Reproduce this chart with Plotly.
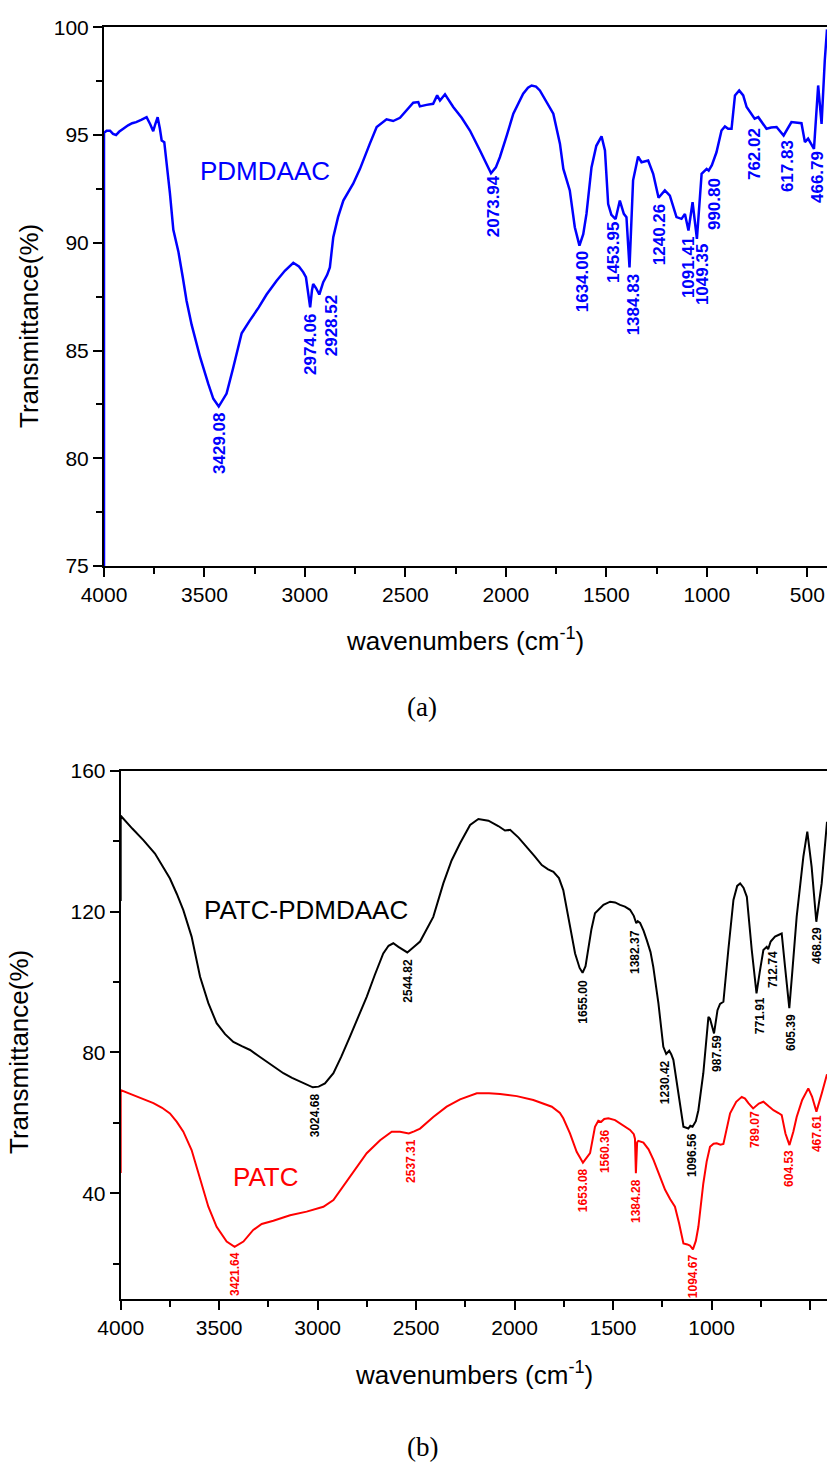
import plotly.graph_objects as go

# ---------------- (a) PDMDAAC spectrum ----------------
pdmdaac_wn = [
    4000, 4000, 3987, 3970, 3955, 3940, 3925, 3905, 3880, 3860, 3840, 3815, 3788, 3770, 3755, 3745,
    3733, 3722, 3713, 3700, 3686, 3672, 3655, 3630, 3608, 3589, 3564, 3522, 3481, 3456, 3429.08,
    3390, 3357, 3315, 3274, 3230, 3191, 3141, 3100, 3058, 3030, 3008, 2995, 2985, 2974.06, 2965,
    2959, 2945, 2928.52, 2909, 2890, 2876, 2859, 2835, 2809, 2760, 2726, 2677, 2643, 2594, 2561,
    2527, 2490, 2461, 2436, 2428, 2395, 2362, 2342, 2328, 2303, 2262, 2220, 2179, 2129, 2100,
    2073.94, 2050, 2030, 1995, 1963, 1914, 1890, 1872, 1850, 1831, 1800, 1764, 1731, 1714, 1682,
    1657, 1634.00, 1615, 1599, 1574, 1550, 1532, 1524, 1507, 1491, 1475, 1453.95, 1433, 1420,
    1413, 1400, 1384.83, 1367, 1342, 1325, 1292, 1267, 1240.26, 1209, 1184, 1151, 1126, 1109,
    1091.41, 1071, 1049.35, 1026, 1001, 990.80, 975, 952, 927, 910, 894, 877, 860, 839, 819, 802,
    780, 762.02, 744, 703, 680, 653, 617.83, 579, 529, 512, 496, 466.79, 446, 429, 413, 402,
]
pdmdaac_t = [
    75.0, 95.1, 95.2, 95.2, 95.05, 95.0, 95.15, 95.3, 95.45, 95.55, 95.6, 95.7, 95.83, 95.5, 95.18, 95.5,
    95.83, 95.3, 94.75, 94.67, 93.5, 92.3, 90.6, 89.6, 88.4, 87.3, 86.2, 84.7, 83.45, 82.76, 82.4,
    83.0, 84.2, 85.8, 86.4, 87.0, 87.6, 88.24, 88.7, 89.07, 88.9, 88.63, 88.4, 87.6, 87.0, 87.8,
    88.09, 87.9, 87.6, 88.17, 88.5, 88.86, 90.26, 91.2, 91.96, 92.74, 93.43, 94.6, 95.37, 95.73, 95.65,
    95.8, 96.2, 96.5, 96.53, 96.33, 96.4, 96.45, 96.84, 96.6, 96.89, 96.3, 95.8, 95.21, 94.28, 93.7,
    93.23, 93.5, 93.97, 95.0, 95.99, 96.92, 97.2, 97.3, 97.25, 97.07, 96.6, 95.99, 94.6, 93.43, 92.43,
    90.72, 89.87, 90.4, 91.34, 93.5, 94.5, 94.83, 94.94, 94.28, 91.8, 91.3, 91.1, 91.96, 91.6,
    91.34, 91.19, 88.86, 92.9, 94.0, 93.74, 93.82, 93.2, 92.09, 92.43, 92.19, 91.19, 91.11, 91.34,
    90.57, 91.88, 90.18, 93.2, 93.43, 93.35, 93.6, 94.2, 95.21, 95.4, 95.29, 95.29, 96.84, 97.07, 96.84, 96.3,
    96.0, 95.76, 95.83, 95.29, 95.35, 95.37, 94.98, 95.6, 95.55, 94.67, 94.83, 94.36, 97.3, 95.52, 98.47, 99.9,
]
pdmdaac_peaks = ["3429.08", "2974.06", "2928.52", "2073.94", "1634.00", "1453.95", "1384.83",
                 "1240.26", "1091.41", "1049.35", "990.80", "762.02", "617.83", "466.79"]
# label centres (wavenumber, transmittance)
pdmdaac_lbl_x = [3429, 2975, 2870, 2064, 1621, 1467, 1367, 1237, 1094, 1024, 959, 760, 601, 452]
pdmdaac_lbl_y = [80.70, 85.30, 86.13, 91.70, 88.17, 89.57, 87.10, 90.36, 88.87, 88.50, 91.80, 94.12, 93.56, 93.05]

# ---------------- (b) PATC-PDMDAAC and PATC spectra ----------------
composite_wn = [
    4000, 4000, 3940, 3885, 3826, 3790, 3750, 3715, 3682, 3640, 3597, 3555, 3513, 3470, 3428, 3385,
    3343, 3300, 3259, 3215, 3174, 3130, 3090, 3050, 3024.68, 2995, 2963, 2920, 2880, 2836, 2793,
    2751, 2710, 2667, 2640, 2616, 2590, 2544.82, 2515, 2480, 2413, 2362, 2320, 2277, 2226, 2184,
    2133, 2083, 2049, 2023, 1980, 1938, 1900, 1862, 1830, 1803, 1775, 1753, 1735, 1719, 1693, 1670,
    1655.00, 1640, 1626, 1610, 1592, 1549, 1515, 1490, 1465, 1440, 1414, 1395, 1382.37, 1375, 1363,
    1345, 1329, 1310, 1296, 1270, 1245, 1230.42, 1215, 1205, 1194, 1169, 1143, 1118, 1108, 1096.56,
    1080, 1067, 1042, 1016, 1008, 987.59, 970, 957, 940, 915, 889, 870, 855, 838, 821, 796, 771.91,
    755, 737, 720, 712.74, 700, 678, 655, 644, 627, 605.39, 590, 568, 534, 514, 492, 468.29, 441, 414,
]
composite_t = [
    123.0, 147.2, 143.5, 140.3, 136.5, 133.0, 129.4, 125.0, 120.4, 112.9, 101.5, 94.0, 88.3, 85.2, 83.0, 81.8,
    80.7, 79.0, 77.4, 75.7, 74.1, 72.8, 71.7, 70.6, 70.1, 70.3, 71.2, 74.1, 78.8, 84.5, 90.0,
    95.8, 102.0, 108.1, 110.3, 111.0, 110.0, 108.4, 109.8, 111.5, 118.5, 128.0, 134.5, 139.4, 144.6, 146.3,
    145.8, 144.3, 143.0, 143.2, 141.0, 138.4, 135.8, 133.2, 132.0, 131.3, 129.5, 126.1, 121.0, 115.7, 108.1, 104.0,
    102.6, 104.5, 109.1, 115.0, 119.5, 121.9, 122.8, 122.6, 121.9, 121.4, 120.5, 118.8, 116.7, 117.3, 116.8,
    114.5, 111.9, 108.5, 104.3, 94.0, 81.6, 79.6, 80.5, 79.5, 77.9, 68.4, 58.9, 58.4, 59.2, 58.9,
    60.5, 63.6, 74.1, 90.1, 89.6, 85.4, 92.0, 93.8, 94.4, 109.1, 123.3, 127.3, 128.0, 126.8, 124.2, 109.1, 96.8,
    103.0, 109.1, 110.0, 109.3, 111.5, 112.9, 113.5, 113.8, 104.3, 92.6, 103.0, 118.5, 135.6, 142.7, 132.7, 117.1, 128.0, 145.5,
]
composite_peaks = ["3024.68", "2544.82", "1655.00", "1382.37", "1230.42", "1096.56",
                   "987.59", "771.91", "712.74", "605.39", "468.29"]
composite_lbl_x = [3013, 2541, 1653, 1389, 1236, 1099, 972, 754, 688, 597, 465]
composite_lbl_y = [62.2, 100.4, 94.4, 108.5, 71.6, 50.9, 79.6, 90.3, 103.4, 85.8, 110.5]

patc_wn = [
    4000, 4000, 3936, 3880, 3834, 3790, 3750, 3715, 3682, 3640, 3597, 3555, 3513, 3462, 3421.64,
    3377, 3327, 3284, 3225, 3140, 3056, 3000, 2971, 2920, 2880, 2836, 2793, 2751, 2683, 2624, 2582,
    2537.31, 2510, 2480, 2413, 2345, 2277, 2192, 2130, 2074, 1989, 1905, 1811, 1770, 1753, 1719, 1685,
    1653.08, 1617, 1592, 1575, 1560.36, 1545, 1524, 1490, 1465, 1414, 1395, 1389, 1384.28, 1378, 1372,
    1346, 1320, 1295, 1265, 1236, 1210, 1186, 1165, 1143, 1123, 1110, 1094.67, 1080, 1067, 1042, 1025,
    1008, 990, 974, 955, 940, 906, 875, 847, 830, 813, 789.07, 760, 737, 710, 686, 660, 644, 625,
    604.53, 585, 568, 540, 509, 490, 467.61, 440, 414,
]
patc_t = [
    45.8, 69.3, 67.9, 66.6, 65.6, 64.3, 62.7, 60.3, 57.5, 52.3, 43.8, 36.2, 30.5, 26.3, 24.8,
    26.3, 29.6, 31.3, 32.2, 33.8, 34.8, 35.6, 36.2, 38.1, 41.2, 44.7, 48.1, 51.4, 55.1, 57.5, 57.5,
    57.0, 57.6, 58.4, 61.7, 64.6, 66.7, 68.4, 68.4, 68.2, 67.6, 66.5, 64.6, 62.8, 61.3, 57.0, 51.8,
    48.7, 51.4, 58.9, 60.6, 60.3, 61.1, 61.3, 60.8, 59.9, 58.0, 56.8, 55.5, 45.7, 54.5, 54.9,
    54.4, 52.5, 49.5, 45.2, 41.0, 38.3, 36.2, 31.5, 25.8, 25.5, 25.2, 24.1, 26.5, 30.5, 42.8, 49.0,
    53.2, 54.1, 54.2, 53.8, 54.0, 62.7, 66.0, 67.4, 66.9, 65.6, 64.1, 65.5, 66.0, 64.7, 63.6, 62.8, 62.2, 57.0,
    53.7, 57.5, 61.7, 66.5, 69.8, 67.5, 63.2, 68.5, 73.8,
]
patc_peaks = ["3421.64", "2537.31", "1653.08", "1560.36", "1384.28", "1094.67", "789.07", "604.53", "467.61"]
patc_lbl_x = [3420, 2526, 1653, 1541, 1384, 1094, 779, 607, 465]
patc_lbl_y = [17.1, 49.2, 40.9, 52.0, 37.8, 16.5, 58.0, 47.2, 57.1]

# ---------------- figure ----------------
W, H = 827, 1466
SANS = "Arial, Liberation Sans, sans-serif"
SERIF = "Palatino Linotype, Book Antiqua, Liberation Serif, DejaVu Serif, serif"

fig = go.Figure()
fig.add_trace(go.Scatter(x=pdmdaac_wn, y=pdmdaac_t, mode="lines",
                         line=dict(color="#0000FF", width=2.5), xaxis="x", yaxis="y"))
fig.add_trace(go.Scatter(x=composite_wn, y=composite_t, mode="lines",
                         line=dict(color="#000000", width=2), xaxis="x2", yaxis="y2"))
fig.add_trace(go.Scatter(x=patc_wn, y=patc_t, mode="lines",
                         line=dict(color="#FF0000", width=2), xaxis="x2", yaxis="y2"))


def px_x(p):
    return p / W


def px_y(p):
    return 1 - p / H


axis_common = dict(
    showline=True, linecolor="black", linewidth=2, showgrid=False, zeroline=False,
    automargin=False,
    ticks="outside", ticklen=9, tickwidth=2, tickcolor="black",
    tickfont=dict(family=SANS, size=21, color="black"),
)
minor_common = dict(ticklen=6, tickwidth=2, tickcolor="black", ticks="outside", showgrid=False)

fig.update_layout(
    width=W, height=H, margin=dict(l=0, r=0, t=0, b=0, autoexpand=False),
    paper_bgcolor="white", plot_bgcolor="white", showlegend=False,
    xaxis=dict(domain=[px_x(104), 1], range=[4000, 402], anchor="y", mirror=True,
               tick0=0, dtick=500, minor=dict(dtick=250, **minor_common), **axis_common),
    yaxis=dict(domain=[px_y(566), px_y(27.3)], range=[75, 100], anchor="x",
               tick0=0, dtick=5, minor=dict(dtick=2.5, **minor_common), **axis_common),
    xaxis2=dict(domain=[px_x(120.7), 1], range=[4000, 414], anchor="y2", mirror=True,
                tick0=0, dtick=500, minor=dict(dtick=250, **minor_common), **axis_common),
    yaxis2=dict(domain=[px_y(1299), px_y(770.7)], range=[10, 160], anchor="x2",
                tick0=0, dtick=40, minor=dict(dtick=20, **minor_common), **axis_common),
)

ann = []


def text_at(x, y, text, size, color, family=SANS, xref="paper", yref="paper", angle=0):
    ann.append(dict(x=x, y=y, xref=xref, yref=yref, text=text, textangle=angle,
                    showarrow=False, xanchor="center", yanchor="middle",
                    font=dict(family=family, size=size, color=color)))


def peak_labels(names, xs, ys, xref, yref, color, size):
    for name, x, y in zip(names, xs, ys):
        text_at(x, y, "<b>%s</b>" % name, size, color, xref=xref, yref=yref, angle=-90)


peak_labels(pdmdaac_peaks, pdmdaac_lbl_x, pdmdaac_lbl_y, "x", "y", "#0000FF", 17)
peak_labels(composite_peaks, composite_lbl_x, composite_lbl_y, "x2", "y2", "#000000", 12)
peak_labels(patc_peaks, patc_lbl_x, patc_lbl_y, "x2", "y2", "#FF0000", 12)

# series names
text_at(px_x(265), px_y(171), "PDMDAAC", 26, "#0000FF")
text_at(px_x(306), px_y(910), "PATC-PDMDAAC", 26, "#000000")
text_at(px_x(265), px_y(1177), "PATC", 26, "#FF0000")

# axis titles
for cx, cy in [(465, 640), (474, 1373)]:
    text_at(px_x(cx), px_y(cy), "wavenumbers (cm<sup>-1</sup>)", 26, "black")
for cx, cy in [(29, 326), (19, 1052)]:
    text_at(px_x(cx), px_y(cy), "Transmittance(%)", 26, "black", angle=-90)

# panel captions
for txt, cy in [("(a)", 707), ("(b)", 1447)]:
    text_at(px_x(422), px_y(cy), txt, 27, "black", family=SERIF)

fig.update_layout(annotations=ann)
fig.write_html("out.html")
